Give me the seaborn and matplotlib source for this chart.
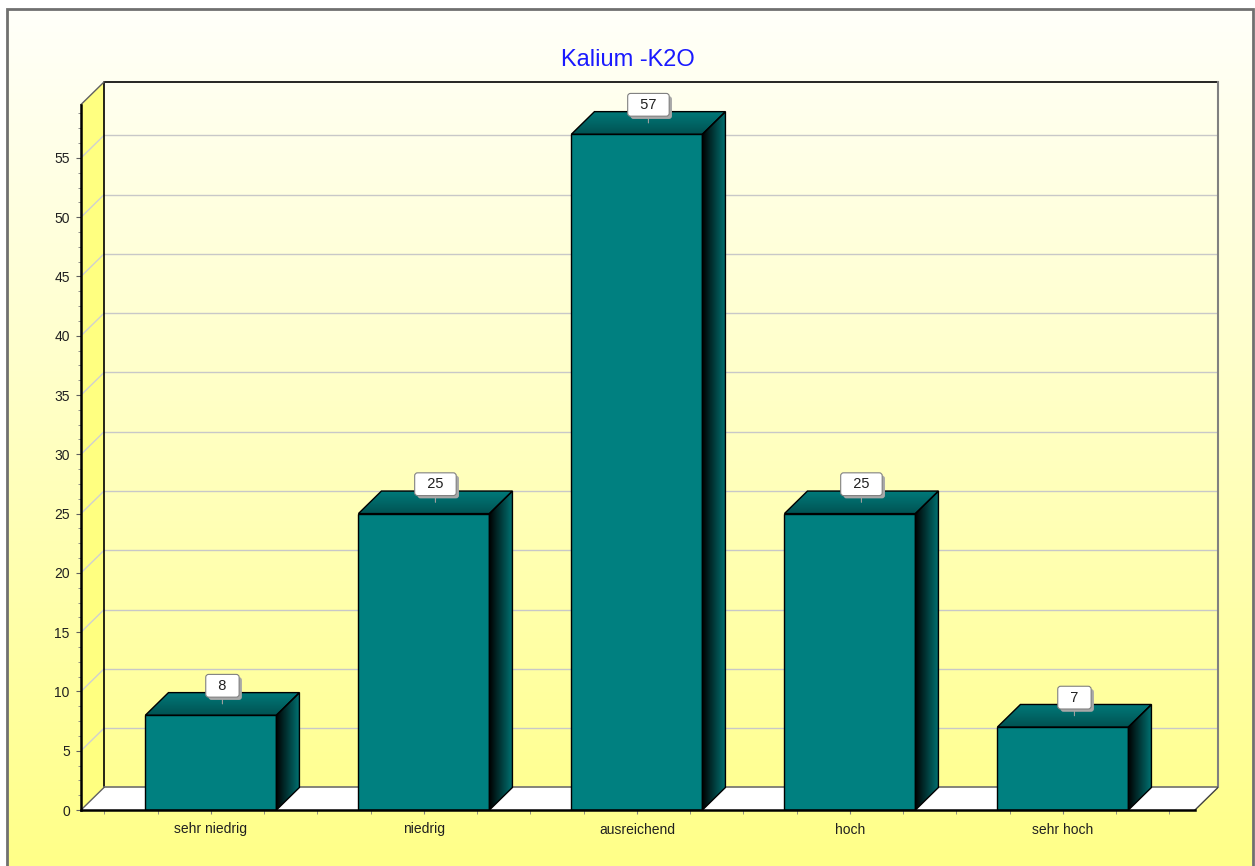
import numpy as np
import matplotlib
matplotlib.use("Agg")
import matplotlib.pyplot as plt
import matplotlib.patheffects as pe
import seaborn as sns
from matplotlib.colors import LinearSegmentedColormap
from matplotlib.patches import Polygon, Rectangle

categories = ["sehr niedrig", "niedrig", "ausreichend", "hoch", "sehr hoch"]
values = [8, 25, 57, 25, 7]
title = "Kalium -K2O"

plt.rcParams["font.family"] = ["Liberation Sans", "DejaVu Sans"]

W, H = 1255, 866
fig = plt.figure(figsize=(W / 100, H / 100), dpi=100, facecolor="white")

# background gradient inside grey frame
bg = fig.add_axes([7 / W, 0, (1253 - 7) / W, (H - 9) / H], zorder=-10)
bg_cmap = LinearSegmentedColormap.from_list("bg", ["#ffff88", "#fffffa"])
bg.imshow(np.linspace(0, 1, 256)[:, None], cmap=bg_cmap, aspect="auto",
          origin="lower", extent=(0, 1, 0, 1))
bg.set_axis_off()
fig.patches.append(Rectangle((7 / W, -0.01), (1253 - 7) / W, 1.01 - 9 / H,
                             transform=fig.transFigure, fill=False,
                             edgecolor="#707070", lw=2))

# plot area (pixel geometry of the 3d box)
ax = fig.add_axes([81 / W, (H - 810) / H, (1218 - 81) / W, (810 - 82) / H])
ax.set_facecolor("none")

x0, x1 = -0.61, 4.62      # front floor extent
dx, dy = 0.108, 1.9       # depth offset
ytop = 59.5
xmax = x1 + dx


def grad_fill(verts, c0, c1, horizontal, zorder, edge="black"):
    poly = Polygon(verts, closed=True, facecolor="none", edgecolor=edge,
                   lw=1, zorder=zorder + 0.01, transform=ax.transData)
    ax.add_patch(poly)
    xs, ys = zip(*verts)
    cmap = LinearSegmentedColormap.from_list("g", [c0, c1])
    g = np.linspace(0, 1, 256)
    img = g[None, :] if horizontal else g[:, None]
    im = ax.imshow(img, cmap=cmap, extent=(min(xs), max(xs), min(ys), max(ys)),
                   origin="lower", aspect="auto", zorder=zorder,
                   interpolation="bilinear")
    im.set_clip_path(poly)


# left wall
ax.add_patch(Polygon([(x0, 0), (x0 + dx, dy), (x0 + dx, ytop + dy), (x0, ytop)],
                     facecolor="#ffff80", edgecolor="none", zorder=0.2))
# floor
ax.add_patch(Polygon([(x0, 0), (x1, 0), (x1 + dx, dy), (x0 + dx, dy)],
                     facecolor="white", edgecolor="none", zorder=0.2))

# grid lines on back and left walls
for v in range(5, 60, 5):
    ax.plot([x0 + dx, xmax], [v + dy, v + dy], color="#c8c8c8", lw=1, zorder=0.4)
    ax.plot([x0, x0 + dx], [v, v + dy], color="#d0d0d0", lw=1, zorder=0.4)

# wall outlines
ax.plot([x0 + dx, x0 + dx, xmax], [dy, ytop + dy, ytop + dy], color="black", lw=1.2,
        zorder=0.5, clip_on=False)
ax.plot([xmax, xmax], [dy, ytop + dy], color="#808080", lw=1.5, zorder=0.5, clip_on=False)
ax.plot([x0, x0 + dx], [ytop, ytop + dy], color="#606060", lw=1, zorder=0.5, clip_on=False)
ax.plot([x0 + dx, xmax], [dy, dy], color="#707070", lw=1.2, zorder=0.5)
ax.plot([x0, x0 + dx], [0, dy], color="#606060", lw=1, zorder=0.5)
ax.plot([x1, x1 + dx], [0, dy], color="#404040", lw=1, zorder=0.5)

# bars
sns.barplot(x=categories, y=values, color="#008080", saturation=1, width=0.615,
            edgecolor="black", linewidth=1, ax=ax, zorder=2)

bars = [q for q in ax.patches if q.get_zorder() == 2]
for p, v in zip(bars, values):
    bx, bw, bh = p.get_x(), p.get_width(), p.get_height()
    # top face
    grad_fill([(bx, bh), (bx + bw, bh), (bx + bw + dx, bh + dy), (bx + dx, bh + dy)],
              "#005252", "#007a7a", False, 2.1)
    # side face
    grad_fill([(bx + bw, 0), (bx + bw + dx, dy), (bx + bw + dx, bh + dy), (bx + bw, bh)],
              "#000000", "#007474", True, 2.1)
    cx, cy = bx + bw / 2 + dx / 2, bh + dy / 2
    t = ax.annotate(f"  {v}  ", xy=(cx, cy), xytext=(0, 8), textcoords="offset points",
                    ha="center", va="bottom", fontsize=10.5, color="#202020", zorder=3,
                    bbox=dict(boxstyle="round,pad=0.3,rounding_size=0.2",
                              fc="white", ec="#808080", lw=0.8),
                    arrowprops=dict(arrowstyle="-", color="#a0a0a0", lw=0.8,
                                    shrinkA=0, shrinkB=0))
    t.get_bbox_patch().set_path_effects([
        pe.SimplePatchShadow(offset=(2, -2), shadow_rgbFace="#a8a8a8", alpha=1),
        pe.Normal()])

# front axis lines
ax.plot([x0, x0], [0, ytop], color="black", lw=1.8, zorder=4, clip_on=False)
ax.plot([x0, x1], [0, 0], color="black", lw=1.8, zorder=4, clip_on=False)

for s in ax.spines.values():
    s.set_visible(False)

ax.set_xlim(-0.61, xmax)
ax.set_ylim(0, ytop + dy)
ax.set_xticks(range(len(categories)))
ax.set_xticklabels(categories)
ax.set_xticks(np.arange(-0.5, 4.51, 0.25), minor=True)
ax.set_yticks(range(0, 56, 5))
ax.set_yticks(np.arange(0, 59.5, 1.25), minor=True)
ax.set_xlabel("")
ax.set_ylabel("")
ax.tick_params(axis="x", which="both", length=3, color="#808080", pad=6,
               labelsize=10, labelcolor="#202020", direction="out")
ax.tick_params(axis="y", which="major", length=3.6, color="#606060", pad=4.5,
               labelsize=10, labelcolor="#202020")
ax.tick_params(axis="y", which="minor", length=2.4, color="#808080")
ax.grid(False)

fig.text(628 / W, 1 - 60 / H, title, color="#1a1aff", fontsize=17,
         ha="center", va="center")

fig.savefig("out.png", dpi=100)
